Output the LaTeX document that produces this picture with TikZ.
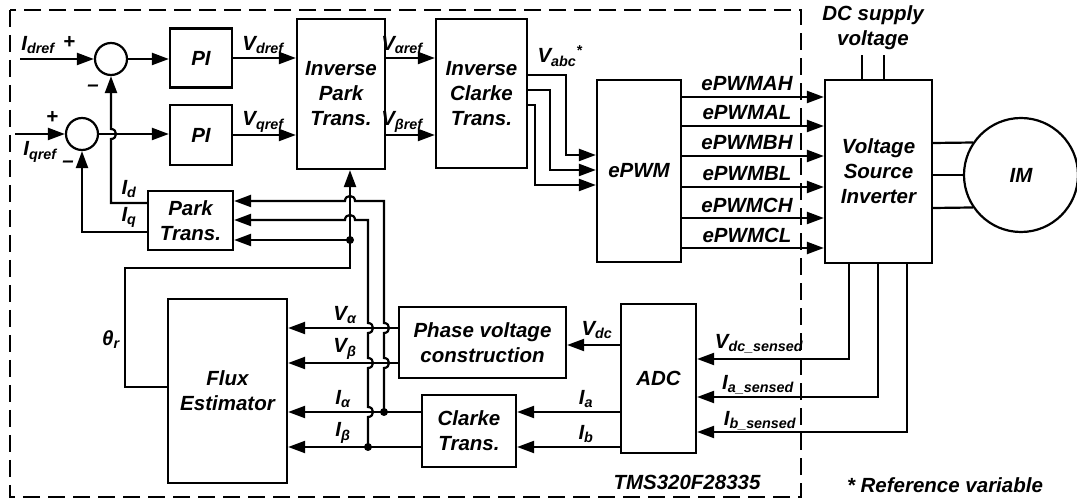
\documentclass[tikz,border=0pt]{standalone}
\usepackage{fontspec}
\setmainfont{Liberation Sans}
\usetikzlibrary{arrows.meta,calc}
\tikzset{
  every node/.style={font=\bfseries\itshape\fontsize{20.5}{25}\selectfont},
  blk/.style={draw, line width=2.2pt, inner sep=0pt, align=center},
  sumnode/.style={draw, circle, line width=2.2pt, minimum size=32pt, inner sep=0pt},
  wire/.style={line width=2.2pt},
  arr/.style={wire, -{Triangle[length=17pt,width=12pt]}},
  jdot/.style={circle, fill, inner sep=0pt, minimum size=8pt},
}
\begin{document}
\begin{tikzpicture}[x=1pt,y=-1pt]
\useasboundingbox (0,0) rectangle (1077,502);
\draw[line width=2.2pt, dash pattern=on 17pt off 8pt] (10,10) rectangle (801,497);

% blocks
\node[sumnode] (s1) at (111,59) {};
\node[sumnode] (s2) at (82,134) {};
\node[blk, minimum width=62pt, minimum height=59pt] (pi1) at (201,58) {PI};
\node[blk, minimum width=62pt, minimum height=60pt] (pi2) at (201,135) {PI};
\node[blk, minimum width=88pt, minimum height=150pt] (ipark) at (341,94) {Inverse\\Park\\Trans.};
\node[blk, minimum width=91pt, minimum height=149pt] (iclarke) at (481.5,93.5) {Inverse\\Clarke\\Trans.};
\node[blk, minimum width=84pt, minimum height=182pt] (epwm) at (639,171) {ePWM};
\node[blk, minimum width=107pt, minimum height=183pt] (vsi) at (878.5,171.5) {Voltage\\Source\\Inverter};
\node[blk, circle, minimum size=114pt] (im) at (1021,175) {IM};
\node[blk, minimum width=85pt, minimum height=59pt] (park) at (190.5,220.5) {Park\\Trans.};
\node[blk, minimum width=119pt, minimum height=184pt] (flux) at (227.5,391) {Flux\\Estimator};
\node[blk, minimum width=167pt, minimum height=71pt] (phase) at (482.5,342.5) {Phase voltage\\construction};
\node[blk, minimum width=94pt, minimum height=72pt] (clarke) at (469,431) {Clarke\\Trans.};
\node[blk, minimum width=75pt, minimum height=149pt] (adc) at (658.5,378.5) {ADC};

% inputs and PI path
\coordinate (idin) at (20,59);
\coordinate (iqin) at (15,134);
\draw[arr] (idin) -- (s1.west);
\draw[arr] (iqin) -- (s2.west);
\draw[arr] (s1.east) -- (s1.east -| pi1.west);
\draw[arr] (s2.east) -- (s2.east -| pi2.west);
\draw[arr] (pi1.east) -- (pi1.east -| ipark.west);
\draw[arr] (pi2.east) -- (pi2.east -| ipark.west);
\draw[arr] (ipark.east |- pi1.east) -- (iclarke.west |- pi1.east);
\draw[arr] (ipark.east |- pi2.east) -- (iclarke.west |- pi2.east);

% inverse clarke to ePWM
\draw[arr] (iclarke.east |- 0,75) -- (566,75) -- (566,155) -- (epwm.west |- 0,155);
\draw[arr] (iclarke.east |- 0,90) -- (550,90) -- (550,170) -- (epwm.west |- 0,170);
\draw[arr] (iclarke.east |- 0,105) -- (535,105) -- (535,185) -- (epwm.west |- 0,185);

% PWM signals
\foreach \y/\t in {97/ePWMAH,126/ePWMAL,156/ePWMBH,187/ePWMBL,218/ePWMCH,248/ePWMCL}{
  \draw[arr] (epwm.east |- 0,\y) -- (vsi.west |- 0,\y);
  \node (pwm\y) at (747,\y-13) {\t};
}

% DC supply
\draw[wire] (vsi.north -| 862,0) -- (862,55);
\draw[wire] (vsi.north -| 884,0) -- (884,55);
\node[align=center] (dc) at (873,28) {DC supply\\voltage};

% VSI to IM
\draw[wire] (vsi.east |- 0,143) -- (im.146.5);
\draw[wire] (vsi.east |- 0,175) -- (im.west);
\draw[wire] (vsi.east |- 0,208) -- (im.214.7);

% sensed signals
\draw[arr] (vsi.south -| 849,0) -- (849,359) -- (adc.east |- 0,359);
\draw[arr] (vsi.south -| 878,0) -- (878,397) -- (adc.east |- 0,397);
\draw[arr] (vsi.south -| 907,0) -- (907,432) -- (adc.east |- 0,432);

% ADC outputs
\draw[arr] (adc.west |- 0,345) -- (phase.east |- 0,345);
\draw[arr] (adc.west |- 0,412) -- (clarke.east |- 0,412);
\draw[arr] (adc.west |- 0,447) -- (clarke.east |- 0,447);

% to flux estimator
\draw[arr] (phase.west |- 0,328) -- (flux.east |- 0,328);
\draw[arr] (phase.west |- 0,363) -- (flux.east |- 0,363);
\draw[arr] (clarke.west |- 0,412) -- (flux.east |- 0,412);
\draw[arr] (clarke.west |- 0,447) -- (flux.east |- 0,447);

% junctions
\node[jdot] (ja) at (384,412) {};
\node[jdot] (jb) at (368,447) {};
\node[jdot] (jt) at (350,240) {};

% I alpha to park
\draw[arr] (ja.center) -- (384,368) .. controls +(6.7,0) and +(6.7,0) .. (384,358)
  -- (384,333) .. controls +(6.7,0) and +(6.7,0) .. (384,323)
  -- (384,201) -- (355,201) .. controls +(0,-6.7) and +(0,-6.7) .. (345,201)
  -- (park.east |- 0,201);
% I beta to park
\draw[arr] (jb.center) -- (368,417) .. controls +(6.7,0) and +(6.7,0) .. (368,407)
  -- (368,368) .. controls +(6.7,0) and +(6.7,0) .. (368,358)
  -- (368,333) .. controls +(6.7,0) and +(6.7,0) .. (368,323)
  -- (368,220) -- (355,220) .. controls +(0,-6.7) and +(0,-6.7) .. (345,220)
  -- (park.east |- 0,220);
% theta
\draw[wire] (flux.west |- 0,387) -- (125,387) -- (125,268) -- (350,268) -- (jt.center);
\draw[arr] (jt.center) -- (ipark.south -| jt.center);
\draw[arr] (jt.center) -- (park.east |- jt.center);

% park outputs
\draw[arr] (park.west |- 0,203) -- (111,203) -- (111,139)
  .. controls +(6.7,0) and +(6.7,0) .. (111,129) -- (s1.south);
\draw[arr] (park.west |- 0,232) -- (82,232) -- (s2.south);

% labels
\node (lidref) at (38,45) {I\textsubscript{dref}};
\node (lp1) at (69,42) {+};
\node (lm1) at (93,88) {--};
\node (lp2) at (52,117) {+};
\node (liqref) at (40,152) {I\textsubscript{qref}};
\node (lm2) at (68,164) {--};
\node (lvd) at (263,45) {V\textsubscript{dref}};
\node (lvq) at (263,122) {V\textsubscript{qref}};
\node (lvar) at (402,45) {V\textsubscript{αref}};
\node (lvbr) at (402,122) {V\textsubscript{βref}};
\node (lvabc) at (560,56) {V\textsubscript{abc}\textsuperscript{*}};
\node (lid) at (129,189) {I\textsubscript{d}};
\node (liq) at (129,217) {I\textsubscript{q}};
\node (lth) at (111,340) {θ\textsubscript{r}};
\node (lva) at (345,315) {V\textsubscript{α}};
\node (lvb) at (345,349) {V\textsubscript{β}};
\node (lia) at (343,399) {I\textsubscript{α}};
\node (lib) at (343,433) {I\textsubscript{β}};
\node (lvdc) at (597,330) {V\textsubscript{dc}};
\node (lia2) at (586,399) {I\textsubscript{a}};
\node (lib2) at (586,434) {I\textsubscript{b}};
\node (lvs) at (759,344) {V\textsubscript{dc\_sensed}};
\node (las) at (758,385) {I\textsubscript{a\_sensed}};
\node (lbs) at (760,421) {I\textsubscript{b\_sensed}};
\node (tms) at (687,482) {TMS320F28335};
\node (refv) at (945,485) {* Reference variable};
\end{tikzpicture}
\end{document}
